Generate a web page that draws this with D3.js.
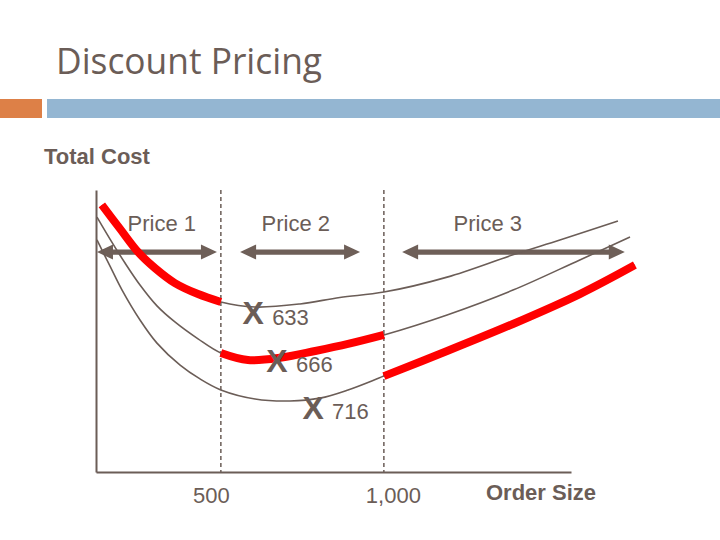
<!DOCTYPE html>
<html><head><meta charset="utf-8">
<script src="https://cdn.jsdelivr.net/npm/d3@7"></script>
<style>body{margin:0;background:#fff;}svg{display:block;}</style>
</head><body>
<svg id="chart" width="720" height="540"></svg>
<script>
// ---- data (order size, total cost) ----
const curve1Orders = [135,191,246,298,359,430,500,605,743,865,1000,1194,1396,1540,1718];
const curve1Costs  = [94.7,86.2,78.0,72.3,67.0,63.1,60.3,58.5,59.6,61.9,63.8,69.1,77.0,82.3,89.0];
const curve2Orders = [120,160,206,252,304,359,430,500,583,687,789,890,1000,1194,1396,1601,1755];
const curve2Costs  = [90.4,82.6,74.1,66.3,58.9,53.2,47.2,42.2,39.7,40.6,42.9,45.4,48.6,55.7,64.5,75.2,83.3];
const curve3Orders = [120,160,197,252,304,375,436,500,605,712,804,890,1000,1194,1396,1601,1770];
const curve3Costs  = [82.3,73.0,64.5,53.9,45.7,37.9,33.0,29.1,25.9,25.2,26.2,29.1,34.0,42.9,52.5,63.1,73.4];
const priceBreaks = [500, 1000];
const tickValues = [500, 1000];
const priceLabels = ["Price 1", "Price 2", "Price 3"];
const priceLabelOrders = [319, 730, 1319];
const priceArrowFrom = [120, 559, 1056];
const priceArrowTo = [488, 927, 1739];
const eoqLabels = ["633", "666", "716"];
const eoqOrders = [599, 672, 783];
const eoqCosts = [56.4, 39.7, 23.0];

const ink = "#6b5d57";
const svg = d3.select("#chart");

// header decoration
svg.append("text").attr("x", 56).attr("y", 74)
  .attr("font-family", "'Open Sans', sans-serif").attr("font-size", 37)
  .attr("fill", ink).attr("textLength", 266).attr("lengthAdjust", "spacingAndGlyphs")
  .text("Discount Pricing");
svg.append("rect").attr("x", 0).attr("y", 99).attr("width", 42).attr("height", 19).attr("fill", "#dd8047");
svg.append("rect").attr("x", 47).attr("y", 99).attr("width", 673).attr("height", 19).attr("fill", "#94b6d2");

svg.append("text").attr("x", 44).attr("y", 164)
  .attr("font-family", "'Liberation Sans', Arial, sans-serif").attr("font-size", 22)
  .attr("font-weight", "bold").attr("fill", ink).text("Total Cost");

// scales
const x = d3.scaleLinear().domain([117, 1574]).range([96, 571]);
const y = d3.scaleLinear().domain([0, 100]).range([472, 190]);

// arrows + price labels
const arrowCost = 78.0, labelCost = 85.5;
priceLabels.forEach((lab, i) => {
  const x1 = x(priceArrowFrom[i]), x2 = x(priceArrowTo[i]), yy = y(arrowCost);
  const hl = 16, hh = 7.5, sw = 2.6;
  const p = d3.path();
  p.moveTo(x1, yy);
  p.lineTo(x1 + hl, yy - hh); p.lineTo(x1 + hl, yy - sw);
  p.lineTo(x2 - hl, yy - sw); p.lineTo(x2 - hl, yy - hh);
  p.lineTo(x2, yy);
  p.lineTo(x2 - hl, yy + hh); p.lineTo(x2 - hl, yy + sw);
  p.lineTo(x1 + hl, yy + sw); p.lineTo(x1 + hl, yy + hh);
  p.closePath();
  svg.append("path").attr("d", p.toString()).attr("fill", "#6e5f58");
  svg.append("text").attr("x", x(priceLabelOrders[i])).attr("y", y(labelCost))
    .attr("text-anchor", "middle")
    .attr("font-family", "'Liberation Sans', Arial, sans-serif").attr("font-size", 22)
    .attr("fill", ink).text(lab);
});

// axes
const xAxis = svg.append("g").attr("transform", `translate(0,${y(0)})`)
  .call(d3.axisBottom(x).tickValues(tickValues).tickFormat(d3.format(","))
    .tickSize(0).tickSizeOuter(0).tickPadding(15));
xAxis.select(".domain").attr("stroke", ink).attr("stroke-width", 2);
const tickShift = [-10, 9];
xAxis.selectAll(".tick text")
  .attr("font-family", "'Liberation Sans', Arial, sans-serif").attr("font-size", 22)
  .attr("fill", ink).attr("dx", (d, i) => tickShift[i]);
const yAxis = svg.append("g").attr("transform", `translate(${x(117)},0)`)
  .call(d3.axisLeft(y).tickValues([]).tickSizeOuter(0));
yAxis.select(".domain").attr("stroke", ink).attr("stroke-width", 2);

svg.append("text").attr("x", 486).attr("y", 500)
  .attr("font-family", "'Liberation Sans', Arial, sans-serif").attr("font-size", 22)
  .attr("font-weight", "bold").attr("fill", ink).text("Order Size");

// dashed break lines
svg.selectAll("line.brk").data(priceBreaks).join("line").attr("class", "brk")
  .attr("x1", d => x(d)).attr("x2", d => x(d)).attr("y1", y(100)).attr("y2", y(0))
  .attr("stroke", ink).attr("stroke-width", 1.5).attr("stroke-dasharray", "4,3");

// curves
const curves = [
  curve1Orders.map((o, i) => [o, curve1Costs[i]]),
  curve2Orders.map((o, i) => [o, curve2Costs[i]]),
  curve3Orders.map((o, i) => [o, curve3Costs[i]])
];
const line = d3.line().x(d => x(d[0])).y(d => y(d[1])).curve(d3.curveCatmullRom.alpha(0.5));
svg.selectAll("path.tc").data(curves).join("path").attr("class", "tc")
  .attr("d", line).attr("fill", "none").attr("stroke", ink).attr("stroke-width", 1.6);

// red lowest-cost segments
const bounds = [-Infinity, ...priceBreaks, Infinity];
const redSegs = curves.map((c, i) => c.filter(d => d[0] >= bounds[i] && d[0] <= bounds[i + 1]));
svg.selectAll("path.red").data(redSegs).join("path").attr("class", "red")
  .attr("d", line).attr("fill", "none").attr("stroke", "#ff0000").attr("stroke-width", 8);

// EOQ markers
eoqLabels.forEach((lab, i) => {
  const cx = x(eoqOrders[i]), cy = y(eoqCosts[i]);
  svg.append("text").attr("x", cx).attr("y", cy + 11.5).attr("text-anchor", "middle")
    .attr("font-family", "'Liberation Sans', Arial, sans-serif").attr("font-size", 32)
    .attr("font-weight", "bold").attr("fill", ink).text("X");
  svg.append("text").attr("x", cx + 19).attr("y", cy + 12)
    .attr("font-family", "'Liberation Sans', Arial, sans-serif").attr("font-size", 22)
    .attr("fill", ink).text(lab);
});
</script>
</body></html>
